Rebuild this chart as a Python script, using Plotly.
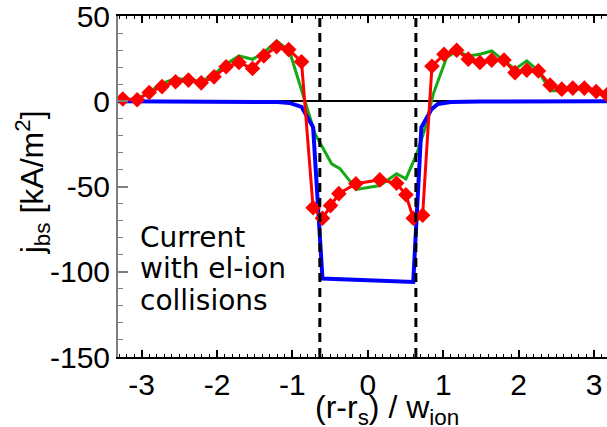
import plotly.graph_objects as go

# ---------------- data ----------------
red_x = [-3.25, -3.06, -2.90, -2.73, -2.55, -2.38, -2.21, -2.04, -1.88, -1.71,
         -1.53, -1.38, -1.21, -1.05, -0.88, -0.726, -0.602, -0.495, -0.385, -0.159,
         0.159, 0.381, 0.505, 0.602, 0.726, 0.85, 1.01, 1.178, 1.332, 1.487,
         1.643, 1.806, 1.952, 2.108, 2.262, 2.417, 2.572, 2.718, 2.872, 3.028, 3.17]
red_y = [1.3, 0.9, 5.1, 8.6, 11.4, 12.4, 10.8, 14.3, 20.2, 22.7,
         19.2, 26.6, 32.0, 30.3, 23.2, -62.4, -68.6, -61.2, -54.2, -48.4,
         -46.1, -48.1, -54.8, -68.6, -66.9, 20.5, 27.5, 29.9, 24.7, 22.7,
         24.1, 24.2, 16.8, 18.2, 17.8, 9.5, 7.1, 7.7, 7.7, 5.7, 3.8]

green_x = [-3.25, -3.06, -2.90, -2.73, -2.55, -2.38, -2.21, -2.04, -1.88, -1.71,
           -1.53, -1.38, -1.21, -1.04, -0.70, -0.48, -0.37, -0.15, 0.159, 0.381,
           0.505, 0.646, 0.757, 0.867, 1.045, 1.178, 1.332, 1.487, 1.643, 1.806,
           1.952, 2.108, 2.262, 2.417, 2.572, 2.718, 2.872, 3.028, 3.17]
green_y = [1.3, 0.9, 5.5, 10.4, 13.5, 12.4, 11.6, 15.9, 21.7, 26.6,
           24.6, 28.5, 35.3, 29.5, -19.2, -36.7, -39.5, -51.7, -49.4, -42.5,
           -45.5, -31.0, -16.2, 4.2, 25.6, 29.5, 26.6, 27.6, 29.5, 23.7,
           18.8, 23.7, 17.8, 6.1, 6.1, 7.1, 7.1, 6.1, 3.2]

blue_x = [-3.4, -2.0, -1.5, -1.2, -1.04, -0.88, -0.726, -0.602,
          0.602, 0.71, 0.846, 0.93, 1.1, 1.5, 3.3]
blue_y = [0.0, 0.0, -0.2, -0.5, -1.0, -3.3, -15.3, -104.0,
          -106.0, -15.3, -4.6, -1.6, -0.5, -0.2, 0.0]

dashed_x = [-0.637, 0.637]

x_ticks = [-3, -2, -1, 0, 1, 2, 3]
x_ticktext = ["-3", "-2", "-1", "0", "1", "2", "3"]
y_ticks = [50, 0, -50, -100, -150]
y_ticktext = ["50", "0", "-50", "-100", "-150"]

x_range = [-3.314, 3.172]
y_range = [-150, 50]

FONT = "Liberation Sans"
TEXT_FONT = "DejaVu Sans"
W, H = 607, 427
ML, MR, MT, MB = 118, 0, 15.5, 70

fig = go.Figure()
fig.add_trace(go.Scatter(x=green_x, y=green_y, mode="lines",
                         line=dict(color="rgb(20,170,20)", width=3),
                         showlegend=False, hoverinfo="skip"))
fig.add_trace(go.Scatter(x=blue_x, y=blue_y, mode="lines",
                         line=dict(color="#0000ff", width=4),
                         showlegend=False, hoverinfo="skip"))
fig.add_trace(go.Scatter(x=red_x, y=red_y, mode="lines+markers",
                         line=dict(color="#ff0000", width=3),
                         marker=dict(symbol="diamond", size=12, color="#ff0000",
                                     line=dict(width=0)),
                         showlegend=False, hoverinfo="skip", cliponaxis=True))

for xv in dashed_x:
    fig.add_shape(type="line", xref="x", yref="paper", x0=xv, x1=xv, y0=0, y1=1,
                  line=dict(color="black", width=3, dash="9px,6px"), layer="above")

pw = W - ML - MR
ph = H - MT - MB


def px2paper_x(px):
    return (px - ML) / pw


def px2paper_y(py):
    return (H - MB - py) / ph


annots = [
    ("Current", 138, 237),
    ("with el-ion", 138, 268.5),
    ("collisions", 138, 300),
]
for txt, px, py in annots:
    fig.add_annotation(text=txt, xref="paper", yref="paper",
                       x=px2paper_x(px), y=px2paper_y(py),
                       xanchor="left", yanchor="middle", showarrow=False,
                       font=dict(family=TEXT_FONT, size=28, color="black"))

fig.add_annotation(text="j<sub>bs</sub> [kA/m<sup>2</sup>]", xref="paper", yref="paper",
                   x=px2paper_x(32), y=px2paper_y(182), textangle=-90,
                   xanchor="center", yanchor="middle", showarrow=False,
                   font=dict(family=FONT, size=32, color="black"))
fig.add_annotation(text="(r-r<sub>s</sub>) / w<sub>ion</sub>", xref="paper", yref="paper",
                   x=px2paper_x(387), y=px2paper_y(410),
                   xanchor="center", yanchor="middle", showarrow=False,
                   font=dict(family=FONT, size=32, color="black"))

fig.update_layout(
    width=W, height=H,
    margin=dict(l=ML, r=MR, t=MT, b=MB, pad=0),
    paper_bgcolor="white", plot_bgcolor="white",
    font=dict(family=FONT, size=30, color="black"),
    xaxis=dict(range=x_range, showgrid=False, zeroline=False,
               showline=True, linecolor="black", linewidth=1.5, mirror="ticks",
               ticks="inside", ticklen=7, tickwidth=1.5, tickcolor="black",
               tickvals=x_ticks, ticktext=x_ticktext, ticklabeloverflow="allow",
               tickfont=dict(family=FONT, size=30, color="black"),
               minor=dict(dtick=0.1, tick0=0, ticks="inside", ticklen=3.5,
                          tickwidth=1, tickcolor="black", showgrid=False)),
    yaxis=dict(range=y_range, showgrid=False,
               zeroline=True, zerolinecolor="black", zerolinewidth=1.5,
               showline=True, linecolor="#7f7f7f", linewidth=2, mirror=False,
               ticks="inside", ticklen=10, tickwidth=1.5, tickcolor="#7f7f7f",
               tickvals=y_ticks, ticktext=y_ticktext, ticklabeloverflow="allow",
               tickfont=dict(family=FONT, size=30, color="black"),
               minor=dict(dtick=10, tick0=0, ticks="inside", ticklen=5,
                          tickwidth=1, tickcolor="#7f7f7f", showgrid=False)),
)

fig.write_html("out.html")
